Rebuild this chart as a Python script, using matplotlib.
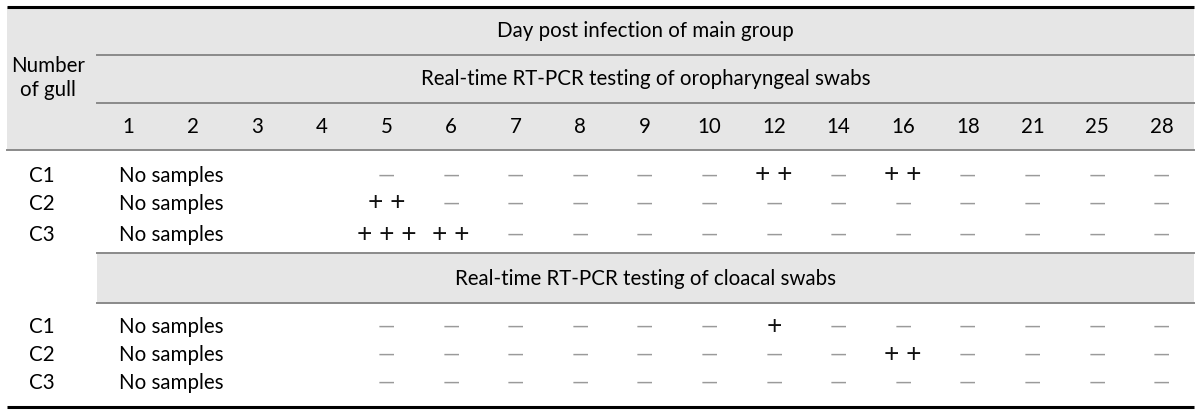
import matplotlib
matplotlib.use('Agg')
import matplotlib.pyplot as plt

plt.rcParams['font.family'] = ['Lato', 'DejaVu Sans']

# Table content
days = ['1', '2', '3', '4', '5', '6', '7', '8', '9', '10',
        '12', '14', '16', '18', '21', '25', '28']
gulls = ['C1', 'C2', 'C3']

# results from day 5 onward (days 1-4: no samples)
oro_c1 = ['—', '—', '—', '—', '—', '—', '++', '—', '++', '—', '—', '—', '—']
oro_c2 = ['++', '—', '—', '—', '—', '—', '—', '—', '—', '—', '—', '—', '—']
oro_c3 = ['+++', '++', '—', '—', '—', '—', '—', '—', '—', '—', '—', '—', '—']
clo_c1 = ['—', '—', '—', '—', '—', '—', '+', '—', '—', '—', '—', '—', '—']
clo_c2 = ['—', '—', '—', '—', '—', '—', '—', '—', '++', '—', '—', '—', '—']
clo_c3 = ['—', '—', '—', '—', '—', '—', '—', '—', '—', '—', '—', '—', '—']

header_top = 'Day post infection of main group'
header_oro = 'Real-time RT-PCR testing of oropharyngeal swabs'
header_clo = 'Real-time RT-PCR testing of cloacal swabs'
row_label = 'Number\nof gull'
no_samples = 'No samples'

W, H = 1200, 413
fig = plt.figure(figsize=(W / 100, H / 100), dpi=100)
ax = fig.add_axes([0, 0, 1, 1])
ax.set_xlim(0, W)
ax.set_ylim(H, 0)
ax.axis('off')

FS = 14.8
GRAY_BG = '#e6e6e6'
LINE_GRAY = '#8a8a8a'
DASH_GRAY = '#9a9a9a'
x0, x1 = 7, 1194
xsub = 97

col_x = [128 + 64.6 * i for i in range(len(days))]

# header background
ax.add_patch(plt.Rectangle((x0, 7), x1 - x0, 143, color=GRAY_BG, lw=0, zorder=0))
ax.add_patch(plt.Rectangle((xsub, 253), x1 - xsub, 50, color=GRAY_BG, lw=0, zorder=0))

# rules
ax.plot([x0, x1], [6.5, 6.5], color='black', lw=2.2, solid_capstyle='butt')
ax.plot([xsub, x1], [55, 55], color=LINE_GRAY, lw=1.4)
ax.plot([xsub, x1], [103, 103], color=LINE_GRAY, lw=1.4)
ax.plot([x0, x1], [150, 150], color=LINE_GRAY, lw=1.4)
ax.plot([xsub, x1], [253, 253], color=LINE_GRAY, lw=1.4)
ax.plot([xsub, x1], [303, 303], color=LINE_GRAY, lw=1.4)
ax.plot([x0, x1], [407, 407], color='black', lw=2.2, solid_capstyle='butt')

mid = (xsub + x1) / 2
ax.text(mid, 31, header_top, ha='center', va='center', fontsize=FS)
ax.text(mid, 79, header_oro, ha='center', va='center', fontsize=FS)
ax.text(mid, 279, header_clo, ha='center', va='center', fontsize=FS)
ax.text(48, 78, row_label, ha='center', va='center', fontsize=FS, linespacing=1.2)

for x, d in zip(col_x, days):
    ax.text(x, 127, d, ha='center', va='center', fontsize=FS)


def draw_block(rows, ys):
    for name, vals, y in zip(gulls, rows, ys):
        ax.text(42, y, name, ha='center', va='center', fontsize=FS)
        ax.text(119, y, no_samples, ha='left', va='center', fontsize=FS)
        for x, v in zip(col_x[4:], vals):
            if v == '—':
                ax.text(x, y, v, ha='center', va='center', fontsize=FS + 1,
                        color=DASH_GRAY)
            else:
                ax.text(x, y - 1, ' '.join(v), ha='center', va='center',
                        fontsize=19, color='#111111')


draw_block([oro_c1, oro_c2, oro_c3], [176, 204, 235])
draw_block([clo_c1, clo_c2, clo_c3], [327, 355, 383])

fig.savefig('out.png', dpi=100)
